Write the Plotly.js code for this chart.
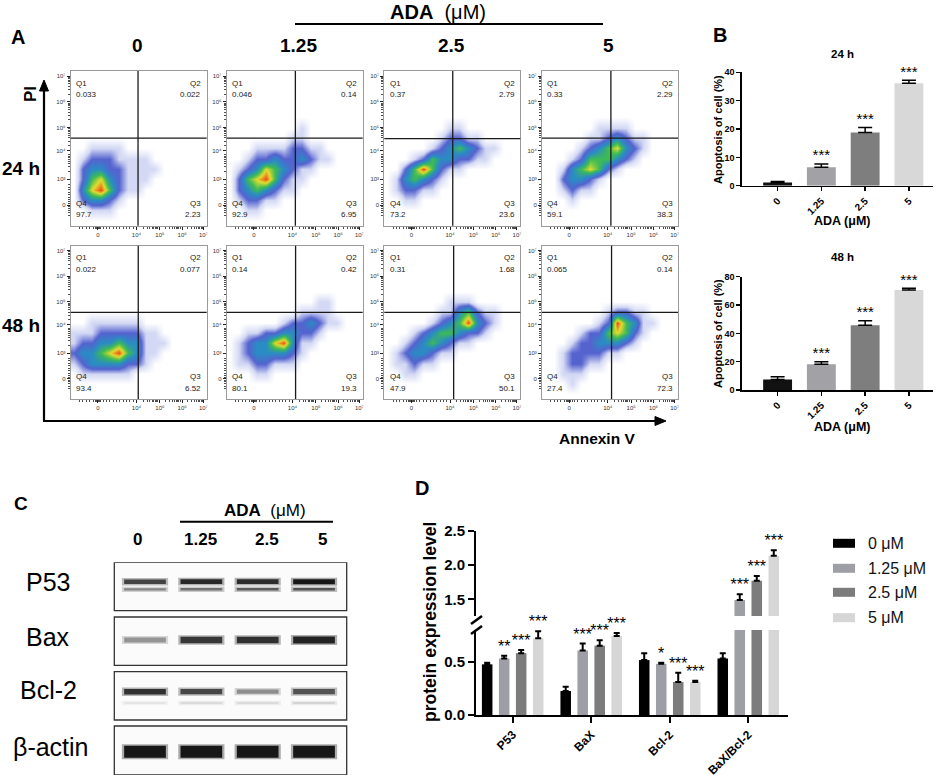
<!DOCTYPE html>
<html>
<head>
<meta charset="utf-8">
<script src="https://cdn.plot.ly/plotly-3.0.1.min.js"></script>
<style>
html,body{margin:0;padding:0;background:#fff;}
#fig{width:941px;height:780px;}
</style>
</head>
<body>
<div id="fig"></div>
<script>
// ================= DATA =================
const doses = ['0', '1.25', '2.5', '5'];
const timeLabels = ['24 h', '48 h'];
const quadNames = ['Q1', 'Q2', 'Q3', 'Q4'];

// Flow cytometry quadrant percentages [Q1, Q2, Q3, Q4] per dose
const quad24h = [
  ['0.033', '0.022', '2.23', '97.7'],
  ['0.046', '0.14', '6.95', '92.9'],
  ['0.37', '2.79', '23.6', '73.2'],
  ['0.33', '2.29', '38.3', '59.1']
];
const quad48h = [
  ['0.022', '0.077', '6.52', '93.4'],
  ['0.14', '0.42', '19.3', '80.1'],
  ['0.31', '1.68', '50.1', '47.9'],
  ['0.065', '0.14', '72.3', '27.4']
];
// Quadrant gates (display units of the biexponential axes)
const gateX24h = [4.07, 4.13, 4.12, 4.14];
const gateX48h = [4.08, 4.14, 4.16, 4.17];
const gateY24h = [4.6, 4.6, 4.58, 4.6];
const gateY48h = [4.59, 4.59, 4.59, 4.59];

// Density of events (0 = none ... 6 = highest), rows from top (PI high) to bottom
const densityBinX = [1.2, 1.6, 2.0, 2.4, 2.8, 3.2, 3.6, 4.0, 4.4, 4.8, 5.2, 5.6, 6.0, 6.4, 6.8];
const densityBinY = [7.0, 6.6, 6.2, 5.8, 5.4, 5.0, 4.6, 4.2, 3.8, 3.4, 3.0, 2.6, 2.2, 1.8, 1.4];
const density24h_0 = [
  '...............', '...............', '...............', '...............', '...............',
  '...............', '...............',
  '..1111.........',
  '.12221111......',
  '.233221111.....',
  '.24532111......',
  '.3564211.......',
  '.23321.........',
  '..111..........',
  '...............'
];
const density24h_125 = [
  '...............', '...............', '...............', '...............', '...............',
  '........1......',
  '.......11......',
  '...11112211....',
  '..1223223211...',
  '.123543211.....',
  '.24564211......',
  '.2343211.......',
  '.12211.........',
  '..11...........',
  '...............'
];
const density24h_25 = [
  '...............', '...............', '...............', '...............', '...............',
  '.......11......',
  '......12211....',
  '.....12343211..',
  '...124332211...',
  '..2464211......',
  '.134321........',
  '.12211.........',
  '..11...........',
  '...............',
  '...............'
];
const density24h_5 = [
  '...............', '...............', '...............', '...............', '...............',
  '......1111.....',
  '.....1123211...',
  '....12345321...',
  '...12444321....',
  '..1345421......',
  '..23321........',
  '..1211.........',
  '...1...........',
  '...............',
  '...............'
];
const density48h_0 = [
  '...............', '...............', '...............', '...............', '...............',
  '...............', '...............',
  '..111111.......',
  '1112222211.....',
  '12233433111....',
  '2334564311.....',
  '123333221......',
  '.111111........',
  '...............',
  '...............'
];
const density48h_125 = [
  '...............', '...............', '...............', '...............', '...............',
  '..........11...',
  '........1111...',
  '......1223211..',
  '..112233221....',
  '.123356311.....',
  '.12333321......',
  '.1122111.......',
  '...11..........',
  '...............',
  '...............'
];
const density48h_25 = [
  '...............', '...............', '...............', '...............', '...............',
  '.......111.....',
  '......1134211..',
  '.....12346321..',
  '...123443221...',
  '..12343211.....',
  '.1233211.......',
  '.11211.........',
  '..11...........',
  '...............',
  '...............'
];
const density48h_5 = [
  '...............', '...............', '...............', '...............', '...............',
  '...............',
  '.......12211...',
  '......1264311..',
  '....12245421...',
  '...12233321....',
  '..1222211......',
  '..12211........',
  '..111..........',
  '...1...........',
  '...............'
];

// Panel B: apoptosis (%)
const apoptosis24h = [1.1, 6.5, 18.8, 36.1];
const apoptosis24hErr = [0.35, 1.15, 1.7, 1.1];
const apoptosis48h = [7.5, 18.1, 45.7, 70.6];
const apoptosis48hErr = [1.9, 1.9, 3.2, 1.2];
const signifB = ['', '***', '***', '***'];

// Panel C: western blot band intensity (0..1) per lane
const blotProteins = ['P53', 'Bax', 'Bcl-2', '\u03b2-actin'];
const bandP53Upper = [0.80, 0.92, 0.90, 1.00];
const bandP53Lower = [0.50, 0.58, 0.68, 0.72];
const bandBax = [0.42, 0.85, 0.88, 0.95];
const bandBcl2 = [0.88, 0.78, 0.45, 0.72];
const bandBcl2Minor = [0.06, 0.12, 0.12, 0.16];
const bandActin = [1.0, 1.0, 1.0, 1.0];

// Panel D: protein expression level
const proteins = ['P53', 'BaX', 'Bcl-2', 'BaX/Bcl-2'];
const concLabels = ['0 \u03bcM', '1.25 \u03bcM', '2.5 \u03bcM', '5 \u03bcM'];
const expr0uM = [0.475, 0.225, 0.515, 0.53];
const expr0uMErr = [0.015, 0.04, 0.065, 0.05];
const expr125uM = [0.53, 0.605, 0.48, 1.49];
const expr125uMErr = [0.025, 0.065, 0.01, 0.085];
const expr25uM = [0.58, 0.65, 0.31, 1.77];
const expr25uMErr = [0.03, 0.05, 0.085, 0.07];
const expr5uM = [0.72, 0.74, 0.31, 2.135];
const expr5uMErr = [0.065, 0.03, 0.01, 0.08];
const signif0uM = ['', '', '', ''];
const signif125uM = ['**', '***', '*', '***'];
const signif25uM = ['***', '***', '***', '***'];
const signif5uM = ['***', '***', '***', '***'];

// ================= FIGURE =================
const W = 941, H = 780;
const fx = p => p / W;
const fy = p => 1 - p / H;
const FONT = 'Liberation Sans, Arial, Helvetica, sans-serif';
const barColorsB = ['#111111', '#a1a1a6', '#7e7e7e', '#d8d8d8'];
const barColorsD = ['#000000', '#9e9ea6', '#7c7c7c', '#d6d6d6'];

const layout = {
  width: W, height: H,
  margin: {l: 0, r: 0, t: 0, b: 0},
  paper_bgcolor: '#ffffff', plot_bgcolor: 'rgba(0,0,0,0)',
  showlegend: false, hovermode: false,
  font: {family: FONT, color: '#000'},
  barmode: 'group', bargap: 0.134, bargroupgap: 0.38,
  annotations: [], shapes: []
};
const traces = [];
const ann = layout.annotations, shp = layout.shapes;
const xr = n => n === 1 ? 'x' : 'x' + n;
const yr = n => n === 1 ? 'y' : 'y' + n;
const xk = n => n === 1 ? 'xaxis' : 'xaxis' + n;
const yk = n => n === 1 ? 'yaxis' : 'yaxis' + n;

function txt(t, x, y, size, opts) {
  const o = Object.assign({
    text: t, x: fx(x), y: fy(y), xref: 'paper', yref: 'paper', showarrow: false,
    font: {size: size, family: FONT, color: '#000'}, xanchor: 'center', yanchor: 'middle'
  }, opts || {});
  ann.push(o);
}
function pline(x0, y0, x1, y1, w) {
  shp.push({type: 'line', xref: 'paper', yref: 'paper', x0: fx(x0), y0: fy(y0), x1: fx(x1), y1: fy(y1), line: {color: '#000', width: w}});
}
function ptri(pts) {
  const d = pts.map((p, i) => (i ? 'L' : 'M') + fx(p[0]).toFixed(5) + ',' + fy(p[1]).toFixed(5)).join(' ') + ' Z';
  shp.push({type: 'path', xref: 'paper', yref: 'paper', path: d, fillcolor: '#000', line: {color: '#000', width: 1}});
}

// ---------- Panel A: flow cytometry ----------
const colLeft = [70.7, 226.7, 384.3, 542];
const panelW = 136;
const rowTop = [71, 245.7], rowBot = [225.7, 399];
const xTickVals = [2.27, 4.0, 5.05, 6.05, 7.0];
const xTickText = ['0', '10\u2074', '10\u2075', '10\u2076', '10\u2077'];
const yTickVals = [2.0, 3.0, 4.1, 5.0, 6.0, 7.0];
const yTickText = ['0', '10\u00b3', '10\u2074', '10\u2075', '10\u2076', '10\u2077'];
const logMinor = (dec) => { const a = []; dec.forEach(d => { for (let k = 2; k < 10; k++) a.push(d + Math.log10(k)); }); return a; };
const xMinor = [1.45, 1.6, 1.75, 1.9, 2.05, 2.15, 2.2, 2.24, 2.3, 2.34, 2.4, 2.5, 2.65, 2.8, 2.95, 3.1, 3.25, 3.4, 3.55, 3.7, 3.85].concat(logMinor([4, 5, 6]));
const yMinor = [1.6, 1.7, 1.8, 1.88, 1.94, 2.06, 2.12, 2.2, 2.3, 2.4, 2.5, 2.6, 2.7, 2.8].concat(logMinor([3, 4, 5, 6]));
const flowScale = [
  [0, '#ffffff'], [0.1667, '#d3d8f4'], [0.3333, '#5563cf'], [0.5, '#2a8cc4'],
  [0.6667, '#3dbb55'], [0.8333, '#e3dd2e'], [1, '#ef4a1a']
];
const densities = [
  [density24h_0, density24h_125, density24h_25, density24h_5],
  [density48h_0, density48h_125, density48h_25, density48h_5]
];
const quads = [quad24h, quad48h];
const gatesX = [gateX24h, gateX48h];
const gatesY = [gateY24h, gateY48h];
const yAsc = densityBinY.slice().reverse();

for (let row = 0; row < 2; row++) {
  for (let col = 0; col < 4; col++) {
    const n = row * 4 + col + 1;
    layout[xk(n)] = {
      domain: [fx(colLeft[col]), fx(colLeft[col] + panelW)], anchor: yr(n),
      range: [1.05, 7.15], tickmode: 'array', tickvals: xTickVals, ticktext: xTickText,
      ticks: 'outside', ticklen: 3, tickwidth: 1, tickcolor: '#222',
      tickfont: {size: 6, color: '#333'}, showline: true, mirror: true, linecolor: '#9a9a9a', linewidth: 1,
      showgrid: false, zeroline: false, fixedrange: true,
      minor: {tickmode: 'array', tickvals: xMinor, ticks: 'outside', ticklen: 2, tickwidth: 0.8, tickcolor: '#222', showgrid: false}
    };
    layout[yk(n)] = {
      domain: [fy(rowBot[row]), fy(rowTop[row])], anchor: xr(n),
      range: [1.2, 7.2], tickmode: 'array', tickvals: yTickVals, ticktext: yTickText,
      ticks: 'outside', ticklen: 3, tickwidth: 1, tickcolor: '#222',
      tickfont: {size: 6, color: '#333'}, showline: true, mirror: true, linecolor: '#9a9a9a', linewidth: 1,
      showgrid: false, zeroline: false, fixedrange: true,
      minor: {tickmode: 'array', tickvals: yMinor, ticks: 'outside', ticklen: 2, tickwidth: 0.8, tickcolor: '#222', showgrid: false}
    };
    const z = densities[row][col].map(r => r.split('').map(ch => ch === '.' ? 0 : +ch)).reverse();
    traces.push({
      type: 'heatmap', x: densityBinX, y: yAsc, z: z, zsmooth: 'best', zmin: 0, zmax: 6,
      colorscale: flowScale, showscale: false, xaxis: xr(n), yaxis: yr(n), hoverinfo: 'skip'
    });
    // quadrant gates
    shp.push({type: 'line', xref: xr(n), yref: yr(n) + ' domain', x0: gatesX[row][col], x1: gatesX[row][col], y0: 0, y1: 1, line: {color: '#1a1a1a', width: 1.3}});
    shp.push({type: 'line', xref: xr(n) + ' domain', yref: yr(n), x0: 0, x1: 1, y0: gatesY[row][col], y1: gatesY[row][col], line: {color: '#1a1a1a', width: 1.3}});
    // quadrant labels
    const q = quads[row][col];
    const qa = (t, x, y, xa) => ann.push({text: t, x: x, y: y, xref: xr(n) + ' domain', yref: yr(n) + ' domain', showarrow: false, xanchor: xa, yanchor: 'middle', font: {size: 8, family: FONT, color: '#222'}});
    qa(quadNames[0], 0.025, 0.92, 'left'); qa(q[0], 0.025, 0.845, 'left');
    qa(quadNames[1], 0.975, 0.92, 'right'); qa(q[1], 0.975, 0.845, 'right');
    qa(quadNames[2], 0.975, 0.145, 'right'); qa(q[2], 0.975, 0.07, 'right');
    qa(quadNames[3], 0.025, 0.145, 'left'); qa(q[3], 0.025, 0.07, 'left');
  }
}
// Panel A headings and axes arrows
txt('<b>A</b>', 18, 37, 20);
txt('<b>ADA</b>  (\u03bcM)', 438, 12, 20);
pline(295, 24, 603, 24, 2);
const headX = [137, 298, 451, 608];
doses.forEach((d, i) => txt('<b>' + d + '</b>', headX[i], 45, 19));
txt('<b>' + timeLabels[0] + '</b>', 21, 168, 19);
txt('<b>' + timeLabels[1] + '</b>', 21, 325, 19);
txt('<b>PI</b>', 30, 94, 17, {textangle: -90});
txt('<b>Annexin V</b>', 597, 438, 15.5);
pline(44, 421, 44, 88, 2.2);
ptri([[44, 80], [39.5, 91], [48.5, 91]]);
pline(43, 421, 657, 421, 2.2);
ptri([[666, 421], [655, 416.5], [655, 425.5]]);

// ---------- Panel B: apoptosis bars ----------
const bPanels = [
  {n: 9, vals: apoptosis24h, err: apoptosis24hErr, top: 72.3, bot: 185.7, ymax: 40, dt: 10, title: timeLabels[0], titleY: 54, xtY: 221, ytY: 130},
  {n: 10, vals: apoptosis48h, err: apoptosis48hErr, top: 276.7, bot: 390, ymax: 80, dt: 20, title: timeLabels[1], titleY: 257.5, xtY: 427, ytY: 334}
];
bPanels.forEach(p => {
  layout[xk(p.n)] = {
    domain: [fx(741.7), fx(933)], anchor: yr(p.n), range: [-0.82, 3.55],
    tickmode: 'array', tickvals: [0, 1, 2, 3], ticktext: doses, tickangle: -45,
    ticks: 'outside', ticklen: 4, tickwidth: 1.5, tickcolor: '#000',
    tickfont: {size: 10, weight: 'bold', color: '#000'},
    showline: true, linewidth: 1.5, linecolor: '#000', showgrid: false, zeroline: false, fixedrange: true
  };
  layout[yk(p.n)] = {
    domain: [fy(p.bot), fy(p.top)], anchor: xr(p.n), range: [0, p.ymax], dtick: p.dt, tick0: 0,
    ticks: 'outside', ticklen: 4, tickwidth: 1.5, tickcolor: '#000',
    tickfont: {size: 9, weight: 'bold', color: '#000'},
    showline: true, linewidth: 1.5, linecolor: '#000', showgrid: false, zeroline: false, fixedrange: true
  };
  traces.push({
    type: 'bar', x: [0, 1, 2, 3], y: p.vals, width: 0.66, xaxis: xr(p.n), yaxis: yr(p.n),
    marker: {color: barColorsB, line: {width: 0}},
    error_y: {type: 'data', array: p.err, arrayminus: [0, 0, 0, 0], symmetric: false, color: '#000', thickness: 1.5, width: 7},
    hoverinfo: 'skip'
  });
  const idx = [0, 1, 2, 3].filter(i => signifB[i] !== '');
  traces.push({
    type: 'scatter', mode: 'text', x: idx, y: idx.map(i => p.vals[i] + p.err[i]), text: idx.map(i => signifB[i]),
    textposition: 'top center', textfont: {size: 15, color: '#000', family: FONT}, cliponaxis: false,
    xaxis: xr(p.n), yaxis: yr(p.n), hoverinfo: 'skip'
  });
  txt('<b>' + p.title + '</b>', 842, p.titleY, 11.5);
  txt('<b>ADA (\u03bcM)</b>', 842, p.xtY, 12.5);
  txt('<b>Apoptosis of cell (%)</b>', 718, p.ytY, 11, {textangle: -90});
});
txt('<b>B</b>', 720, 35, 20);

// ---------- Panel C: western blot ----------
layout.xaxis11 = {domain: [fx(114.3), fx(346.7)], anchor: 'y11', range: [-0.545, 3.58], visible: false, fixedrange: true};
layout.yaxis11 = {domain: [fy(775), fy(562.3)], anchor: 'x11', range: [5, 217.7], visible: false, fixedrange: true};
const blotBoxes = [[169.3, 217.7], [114.7, 163], [60, 108.3], [5, 54]];
const blotLabelY = [581.7, 636.7, 690, 746.7];
blotBoxes.forEach((b, i) => {
  shp.push({type: 'rect', layer: 'below', xref: 'x11 domain', yref: 'y11', x0: 0, x1: 1, y0: b[0], y1: b[1], line: {color: '#333', width: 1.3}, fillcolor: '#fbfbfb'});
  txt(blotProteins[i], i === 3 ? 51 : 48, blotLabelY[i], 25);
});
const bandRows = [
  {vals: bandP53Upper, y: 198.3, thick: 5},
  {vals: bandP53Lower, y: 190.7, thick: 3},
  {vals: bandBax, y: 140, thick: 7},
  {vals: bandBcl2, y: 88.3, thick: 6},
  {vals: bandBcl2Minor, y: 77, thick: 3},
  {vals: bandActin, y: 28.3, thick: 12}
];
bandRows.forEach(b => b.vals.forEach((v, i) => {
  const g = Math.round(238 - 215 * v);
  traces.push({type: 'scatter', mode: 'lines', x: [i - 0.41, i + 0.41], y: [b.y, b.y], xaxis: 'x11', yaxis: 'y11',
    line: {color: 'rgba(' + g + ',' + g + ',' + g + ',0.35)', width: b.thick * (0.5 + 0.5 * v) + 3}, hoverinfo: 'skip'});
  traces.push({type: 'scatter', mode: 'lines', x: [i - 0.37, i + 0.37], y: [b.y, b.y], xaxis: 'x11', yaxis: 'y11',
    line: {color: 'rgb(' + g + ',' + g + ',' + g + ')', width: Math.max(1, b.thick * (0.5 + 0.5 * v))}, hoverinfo: 'skip'});
}));
txt('<b>C</b>', 21, 503, 19);
txt('<b>ADA</b>  (\u03bcM)', 265, 510, 17);
pline(180, 521.7, 333, 521.7, 2);
const laneLabelX = [137, 200, 267, 322];
doses.forEach((d, i) => txt('<b>' + d + '</b>', laneLabelX[i], 539, 17));

// ---------- Panel D: protein expression (broken axis) ----------
const exprVals = [expr0uM, expr125uM, expr25uM, expr5uM];
const exprErrs = [expr0uMErr, expr125uMErr, expr25uMErr, expr5uMErr];
const exprSig = [signif0uM, signif125uM, signif25uM, signif5uM];
const axisFontD = {size: 15, weight: 'bold', color: '#000'};
layout.xaxis12 = {
  domain: [fx(476), fx(788)], anchor: 'y12', range: [-0.467, 3.506],
  tickmode: 'array', tickvals: [0, 1, 2, 3], ticktext: proteins, tickangle: -45,
  ticks: 'outside', ticklen: 6, tickwidth: 2, tickcolor: '#000',
  tickfont: {size: 12, weight: 'bold', color: '#000'},
  showline: true, linewidth: 2, linecolor: '#000', showgrid: false, zeroline: false, fixedrange: true
};
layout.yaxis12 = {
  domain: [fy(715), fy(630)], anchor: 'x12', range: [0, 0.797],
  tickmode: 'array', tickvals: [0, 0.5], ticktext: ['0.0', '0.5'],
  ticks: 'outside', ticklen: 6, tickwidth: 2, tickcolor: '#000', tickfont: axisFontD,
  showline: true, linewidth: 2, linecolor: '#000', showgrid: false, zeroline: false, fixedrange: true
};
layout.yaxis13 = {
  domain: [fy(616), fy(530.7)], anchor: 'x12', range: [1.257, 2.5],
  tickmode: 'array', tickvals: [1.5, 2.0, 2.5], ticktext: ['1.5', '2.0', '2.5'],
  ticks: 'outside', ticklen: 6, tickwidth: 2, tickcolor: '#000', tickfont: axisFontD,
  showline: true, linewidth: 2, linecolor: '#000', showgrid: false, zeroline: false, fixedrange: true
};
const slot = (1 - layout.bargap) / 4;
['y12', 'y13'].forEach(ya => {
  exprVals.forEach((vals, k) => {
    traces.push({
      type: 'bar', name: concLabels[k], x: [0, 1, 2, 3], y: vals, xaxis: 'x12', yaxis: ya,
      marker: {color: barColorsD[k], line: {width: 0}},
      error_y: {type: 'data', array: exprErrs[k], arrayminus: [0, 0, 0, 0], symmetric: false, color: '#000', thickness: 2, width: 3},
      hoverinfo: 'skip'
    });
  });
});
exprVals.forEach((vals, k) => {
  const lo = {x: [], y: [], t: []}, hi = {x: [], y: [], t: []};
  vals.forEach((v, i) => {
    if (exprSig[k][i] === '') return;
    const top = v + exprErrs[k][i];
    const s = top < 1.0 ? lo : hi;
    s.x.push(i + (k - 1.5) * slot); s.y.push(top); s.t.push(exprSig[k][i]);
  });
  [[lo, 'y12'], [hi, 'y13']].forEach(([s, ya]) => {
    if (!s.x.length) return;
    traces.push({type: 'scatter', mode: 'text', x: s.x, y: s.y, text: s.t, textposition: 'top center',
      textfont: {size: 16, color: '#000', family: FONT}, cliponaxis: false, xaxis: 'x12', yaxis: ya, hoverinfo: 'skip'});
  });
});
// axis break marks
pline(471, 624, 482, 616, 2.5);
pline(471, 634, 482, 626, 2.5);
txt('<b>D</b>', 422, 488, 20);
txt('<b>protein expression level</b>', 430, 622, 17.5, {textangle: -90});
// legend
const legY = [543.3, 568.3, 592.3, 617.7];
concLabels.forEach((c, k) => {
  shp.push({type: 'rect', xref: 'paper', yref: 'paper', x0: fx(833), x1: fx(855), y0: fy(legY[k] + 4.5), y1: fy(legY[k] - 4.5), line: {width: 0}, fillcolor: barColorsD[k]});
  txt(c, 866, legY[k], 16, {xanchor: 'left', font: {size: 16, family: FONT, color: '#111'}});
});

Plotly.newPlot('fig', traces, layout, {staticPlot: true, displayModeBar: false});
</script>
</body>
</html>
